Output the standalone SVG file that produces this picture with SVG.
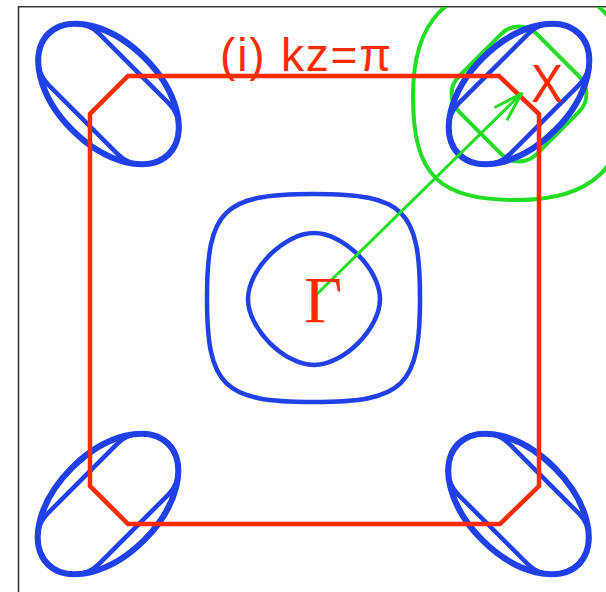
<svg xmlns="http://www.w3.org/2000/svg" width="606" height="592" viewBox="0 0 606 592">
  <defs>
    <clipPath id="frameClip">
      <rect x="18" y="7" width="588" height="585"/>
    </clipPath>
    <marker id="openArrow" markerUnits="userSpaceOnUse" markerWidth="40" markerHeight="30" viewBox="-36 -15 40 30" refX="0" refY="0" orient="auto">
      <path d="M-28,-8.5 L0,0 L-28,8.5" fill="none" stroke="#22dd22" stroke-width="3" stroke-linecap="round" stroke-linejoin="round"/>
    </marker>
  </defs>
  <style>
    .frame { stroke: #3a3a3a; stroke-width: 1.6; fill: none; }
    .green { fill: none; stroke: #22dd22; stroke-width: 4; }
    .blue { fill: none; stroke: #2040e8; stroke-width: 4.5; }
    .blue2 { fill: none; stroke: #2040e8; stroke-width: 3; }
    .red { fill: none; stroke: #ff2a00; stroke-width: 4.5; stroke-linejoin: miter; }
    .lbl { fill: #ff2a00; }
  </style>
  <rect x="0" y="0" width="606" height="592" fill="#ffffff"/>

  <g id="frame">
    <line class="frame" x1="18" y1="6.8" x2="606" y2="6.8"/>
    <line class="frame" x1="18.5" y1="6" x2="18.5" y2="592"/>
  </g>

  <g id="green-surfaces" clip-path="url(#frameClip)">
    <path class="green" d="M519,-14 C445,-14 413,22 413,96 C413,175 438,200 517,200 C591,200 627,168 627,94 C627,15 598,-14 519,-14 Z"/>
    <rect class="green" x="-55" y="-55" width="110" height="110" rx="25" transform="translate(519,94) rotate(45)"/>
  </g>

  <g id="pocket-tl" transform="translate(108.5,94) rotate(45)">
    <ellipse class="blue" cx="0" cy="0" rx="86" ry="52"/>
    <ellipse class="blue2" cx="0" cy="0" rx="83.5" ry="49.5"/>
    <rect class="blue" x="-85" y="-36" width="170" height="72" rx="36"/>
  </g>
  <g id="pocket-tr" transform="translate(519,94) rotate(-45)">
    <ellipse class="blue" cx="0" cy="0" rx="86" ry="52"/>
    <ellipse class="blue2" cx="0" cy="0" rx="83.5" ry="49.5"/>
    <rect class="blue" x="-85" y="-36" width="170" height="72" rx="36"/>
  </g>
  <g id="pocket-bl" transform="translate(108,504) rotate(-45)">
    <ellipse class="blue" cx="0" cy="0" rx="86" ry="52"/>
    <ellipse class="blue2" cx="0" cy="0" rx="83.5" ry="49.5"/>
    <rect class="blue" x="-85" y="-36" width="170" height="72" rx="36"/>
  </g>
  <g id="pocket-br" transform="translate(518.5,504) rotate(45)">
    <ellipse class="blue" cx="0" cy="0" rx="86" ry="52"/>
    <ellipse class="blue2" cx="0" cy="0" rx="83.5" ry="49.5"/>
    <rect class="blue" x="-85" y="-36" width="170" height="72" rx="36"/>
  </g>

  <g id="gamma-pockets">
    <path class="blue" d="M313.5,194 C404,194 420,209.6 420,298 C420,386.4 404,402 313.5,402 C223,402 207,386.4 207,298 C207,209.6 223,194 313.5,194 Z"/>
    <path class="blue" d="M314,233 C343.7,233 380,269.3 380,299 C380,328.7 343.7,365 314,365 C284.3,365 248,328.7 248,299 C248,269.3 284.3,233 314,233 Z"/>
  </g>

  <g id="brillouin-zone">
    <polygon class="red" points="128,76 499,76 539,114 539,486 500,524 128,524 90,486 90,114"/>
  </g>

  <g id="connectors">
    <line x1="313" y1="298" x2="521.5" y2="93.5" stroke="#22dd22" stroke-width="3" marker-end="url(#openArrow)"/>
  </g>

  <g id="labels">
    <text class="lbl" x="220" y="71" font-family="'Liberation Sans', Arial, sans-serif" font-size="46" textLength="171" lengthAdjust="spacing">(i) kz=π</text>
    <text class="lbl" x="531" y="102" font-family="'Liberation Sans', Arial, sans-serif" font-size="54" textLength="32" lengthAdjust="spacingAndGlyphs">X</text>
    <text class="lbl" x="304" y="322" font-family="'Liberation Serif', 'Times New Roman', serif" font-size="66">Γ</text>
  </g>
</svg>
